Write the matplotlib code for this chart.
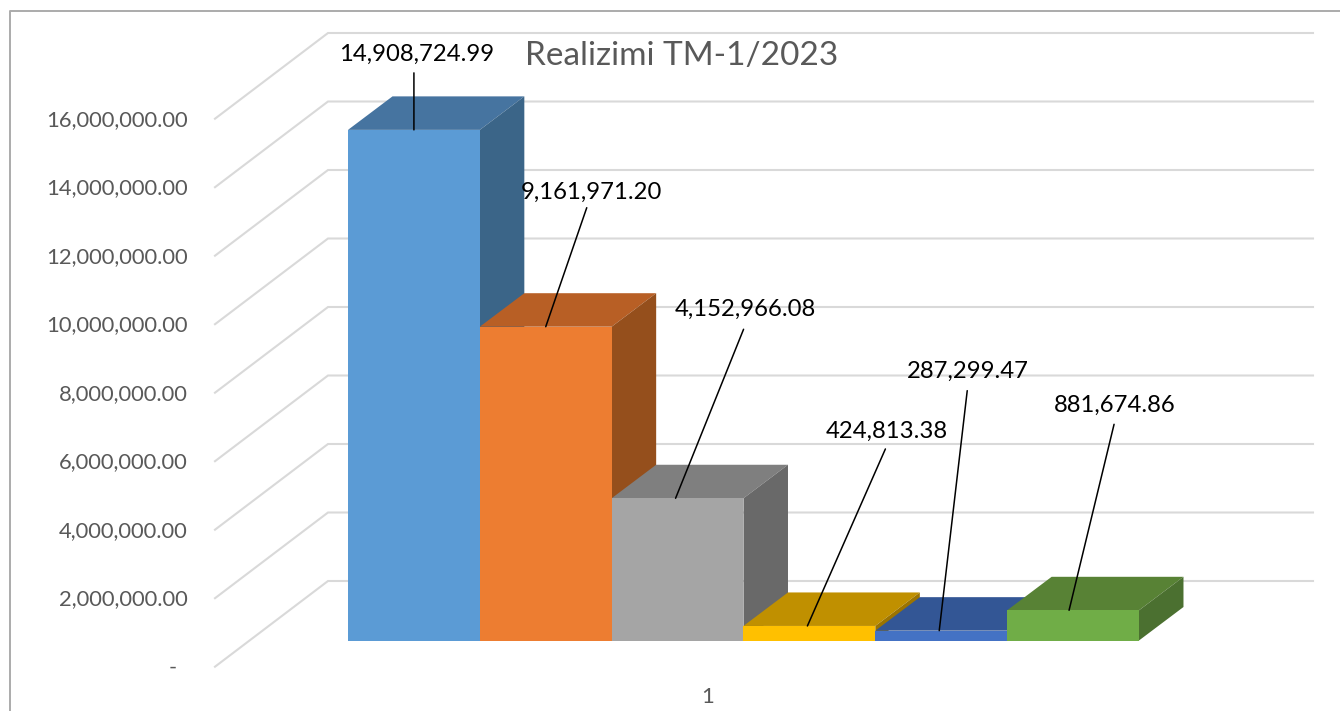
import matplotlib.pyplot as plt
from matplotlib.patches import Polygon, Rectangle

plt.rcParams['font.family'] = ['Lato', 'DejaVu Sans']

# chart data
values = [14908724.99, 9161971.20, 4152966.08, 424813.38, 287299.47, 881674.86]
value_labels = ['14,908,724.99', '9,161,971.20', '4,152,966.08', '424,813.38', '287,299.47', '881,674.86']
grid_values = [0, 2e6, 4e6, 6e6, 8e6, 10e6, 12e6, 14e6, 16e6]
grid_labels = ['-', '2,000,000.00', '4,000,000.00', '6,000,000.00', '8,000,000.00',
               '10,000,000.00', '12,000,000.00', '14,000,000.00', '16,000,000.00']
category_label = '1'
title = 'Realizimi TM-1/2023'

front_colors = ['#5B9BD5', '#ED7D31', '#A5A5A5', '#FFC000', '#4472C4', '#70AD47']
top_colors = ['#4674A0', '#B85F25', '#7F7F7F', '#C09000', '#335695', '#588235']
side_colors = ['#3B6588', '#954F1C', '#696969', '#9C7400', '#2C4A80', '#4B7030']

# layout: 1 bar wide = 131.8 px, 1 million = 34.25 px
W, H = 1340, 711
bar_px = 131.83
val_px = 34.25e-6
x0_px, y0_px = 348, 640.5

fig = plt.figure(figsize=(W / 100, H / 100), dpi=100)
ax = fig.add_axes([0, 0, 1, 1])
ax.set_xlim(-x0_px / bar_px, (W - x0_px) / bar_px)
ax.set_ylim(-(H - y0_px) / val_px, y0_px / val_px)
ax.axis('off')


def px_x(d):
    return d / bar_px


def px_y(d):
    return d / val_px


depth_x, depth_y = px_x(44.5), px_y(33.5)

# chart frame
fig.add_artist(plt.Line2D([10 / W, 10 / W, 1], [0, 1 - 11 / H, 1 - 11 / H], color='#ABABAB', lw=1.4))

# walls
for v, lab in zip(grid_values, grid_labels):
    base = v + px_y(y0_px - 666.7)
    back = v + px_y(y0_px - 581)
    xs = [px_x(215 - x0_px), px_x(328 - x0_px), px_x(1313 - x0_px)]
    ax.plot(xs, [base, back, back], color='#D9D9D9', lw=1.5, solid_joinstyle='miter', zorder=1)
    text_x = px_x(177 - x0_px) if lab == '-' else px_x(188 - x0_px)
    ax.text(text_x, base - px_y(1), lab, ha='right', va='center', fontsize=15.8, color='#595959')

# bars
for i, v in enumerate(values):
    ax.add_patch(Polygon([(i, v), (i + 1, v), (i + 1 + depth_x, v + depth_y), (i + depth_x, v + depth_y)],
                         facecolor=top_colors[i], lw=0, zorder=2 + i))
    ax.add_patch(Polygon([(i + 1, 0), (i + 1 + depth_x, depth_y), (i + 1 + depth_x, v + depth_y), (i + 1, v)],
                         facecolor=side_colors[i], lw=0, zorder=2 + i))
    ax.add_patch(Rectangle((i, 0), 1, v, facecolor=front_colors[i], lw=0, zorder=2 + i))

# data labels and leader lines, offsets in px from the bar top centre
line_base = [0, 0, -2, -2, -2, -4]
line_off = [(0, 57), (41, 119), (68, 169), (78, 177), (28, 240), (45, 186)]
text_off = [(3, 76), (46, 134), (68, 189), (77, 195), (27, 259), (42, 205)]
for i, v in enumerate(values):
    ax.annotate('', xy=(i + 0.5 + px_x(line_base[i]), v), xytext=line_off[i], textcoords='offset pixels',
                arrowprops=dict(arrowstyle='-', color='black', lw=1.1, shrinkA=0, shrinkB=0), zorder=20)
    ax.annotate(value_labels[i], xy=(i + 0.5, v), xytext=text_off[i], textcoords='offset pixels',
                ha='center', va='center', fontsize=17.2, color='black', zorder=21)

ax.text(px_x(682 - x0_px), px_y(y0_px - 56), title, ha='center', va='center', fontsize=24, color='#595959', zorder=21)
ax.text(px_x(708 - x0_px), px_y(y0_px - 697), category_label, ha='center', va='center', fontsize=15.8, color='#595959')

fig.savefig('out.png', dpi=100)
plt.close()
